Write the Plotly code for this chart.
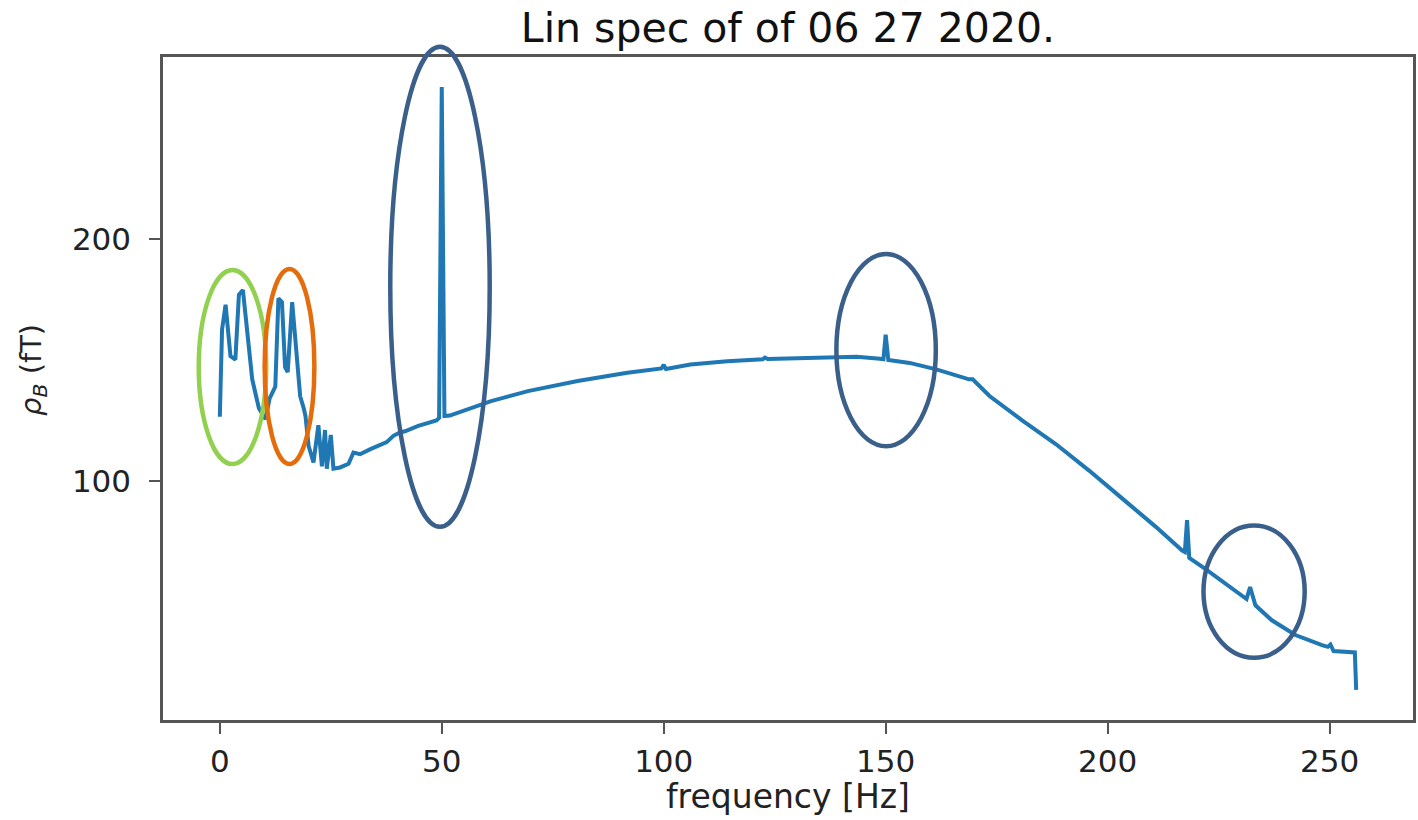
import plotly.graph_objects as go

# Linear magnetic-field spectrum, 06 27 2020
freq_hz = [0, 0.5, 1.3, 2.4, 3.5, 4.3, 5.2, 6.1, 7.3, 8.8, 10.3, 11.2, 12.5, 13.2, 14.0,
           14.7, 15.3, 16.3, 17.4, 18.1, 18.9, 19.3, 20.0, 20.7, 21.1, 22.2, 23.0, 23.7,
           24.1, 25.0, 25.6, 27.1, 29.0, 30.1, 31.6, 33.8, 35.7, 37.6, 39.1, 40.6, 41.7,
           44.7, 48.8, 49.4, 50.0, 50.6, 51.8, 58.1, 61.1, 69.4, 80.6, 91.8, 99.5, 100.0,
           100.5, 106.0, 114.3, 122.3, 122.8, 123.4, 132.9, 138.2, 143.5, 148.7, 149.5,
           150.0, 150.6, 155.4, 161.4, 168.8, 169.6, 173.4, 180.9, 188.4, 195.9, 203.4,
           210.8, 216.8, 217.4, 217.9, 218.4, 222.0, 230.3, 231.3, 232.1, 233.3, 237.0,
           242.3, 248.3, 249.6, 250.2, 250.9, 255.7, 256.0]
rho_b_ft = [126.5, 162.6, 172.9, 151.6, 150.2, 177.0, 179.0, 162.6, 142.0, 130.0, 125.5,
            134.0, 139.0, 175.5, 174.0, 147.0, 145.0, 174.0, 151.0, 135.0, 130.0, 126.8,
            114.4, 110.0, 107.6, 123.0, 106.0, 121.0, 105.0, 119.0, 105.0, 105.5, 107.0,
            111.7, 111.0, 113.0, 114.5, 116.0, 118.6, 120.0, 120.5, 122.7, 125.0, 126.0,
            263.0, 126.8, 127.0, 131.0, 133.0, 137.1, 141.3, 144.7, 146.5, 148.0, 146.3,
            148.1, 149.5, 150.3, 151.0, 150.4, 150.9, 151.3, 151.3, 150.5, 150.3, 160.5,
            150.0, 148.8, 146.1, 142.0, 142.0, 135.1, 124.8, 115.1, 104.1, 92.5, 81.0,
            71.1, 70.5, 83.7, 68.0, 63.5, 51.9, 51.0, 56.0, 48.4, 42.2, 36.1, 31.9, 31.2,
            32.2, 29.5, 28.9, 13.4]

x_ticks = [0, 50, 100, 150, 200, 250]
y_ticks = [100, 200]

# Highlight ellipses: (centre freq, centre value, half-width Hz, half-height fT, colour)
highlights = [
    (2.85, 147.1, 7.6, 40.2, "#92D050"),
    (15.7, 147.3, 5.6, 40.4, "#E46C0A"),
    (49.6, 180.3, 11.2, 99.4, "#3A5F8B"),
    (150.1, 154.1, 11.2, 39.8, "#3A5F8B"),
    (233.0, 54.1, 11.4, 27.4, "#3A5F8B"),
]

# Autoscale with 5 % padding on each side
x_lo, x_hi = min(freq_hz), max(freq_hz)
y_lo, y_hi = min(rho_b_ft), max(rho_b_ft)
x_pad = 0.05 * (x_hi - x_lo)
y_pad = 0.05 * (y_hi - y_lo)
x_range = [x_lo - x_pad, x_hi + x_pad]
y_range = [y_lo - y_pad, y_hi + y_pad]

fig = go.Figure()
fig.add_trace(go.Scatter(
    x=freq_hz, y=rho_b_ft, mode="lines",
    line=dict(color="#1f77b4", width=4),
    hoverinfo="skip", showlegend=False,
))


def to_paper_x(v):
    return (v - x_range[0]) / (x_range[1] - x_range[0])


def to_paper_y(v):
    return (v - y_range[0]) / (y_range[1] - y_range[0])


for cx, cy, hw, hh, col in highlights:
    fig.add_shape(
        type="circle", xref="paper", yref="paper",
        x0=to_paper_x(cx - hw), x1=to_paper_x(cx + hw),
        y0=to_paper_y(cy - hh), y1=to_paper_y(cy + hh),
        line=dict(color=col, width=4.5), layer="above",
    )

# y-axis label, placed as a rotated annotation
fig.add_annotation(
    text="<i>ρ</i><sub><i>B</i></sub> (fT)",
    xref="paper", yref="paper", x=-0.104, y=0.528,
    xanchor="center", yanchor="middle", textangle=-90, showarrow=False,
    font=dict(family="DejaVu Sans", size=29, color="#222222"),
)

# x-axis label, placed as an annotation below the tick labels
fig.add_annotation(
    text="frequency [Hz]",
    xref="paper", yref="paper", x=0.5, y=-(796 - 720) / 663,
    xanchor="center", yanchor="middle", showarrow=False,
    font=dict(family="DejaVu Sans", size=33, color="#222222"),
)

axis_common = dict(
    showline=True, linecolor="#555555", linewidth=2.5, mirror=True,
    showgrid=False, zeroline=False,
    ticks="outside", ticklen=11, tickwidth=2, tickcolor="#555555",
    tickfont=dict(family="DejaVu Sans", size=31, color="#222222"),
)

fig.update_layout(
    width=1418, height=820,
    margin=dict(l=163, r=2, t=57, b=100),
    paper_bgcolor="white", plot_bgcolor="white",
    font=dict(family="DejaVu Sans", color="#222222"),
    title=dict(
        text="Lin spec of of 06 27 2020.",
        font=dict(family="DejaVu Sans", size=41, color="#111111"),
        x=0.5, xref="paper", xanchor="center",
        y=1 - 28 / 820, yref="container", yanchor="middle",
    ),
    xaxis=dict(
        range=x_range, tickvals=x_ticks, ticktext=[str(t) for t in x_ticks],
        ticklabelstandoff=1,
        **axis_common,
    ),
    yaxis=dict(
        range=y_range, tickvals=y_ticks, ticktext=[str(t) for t in y_ticks],
        ticklabelstandoff=12,
        **axis_common,
    ),
)

fig.write_html("out.html")
